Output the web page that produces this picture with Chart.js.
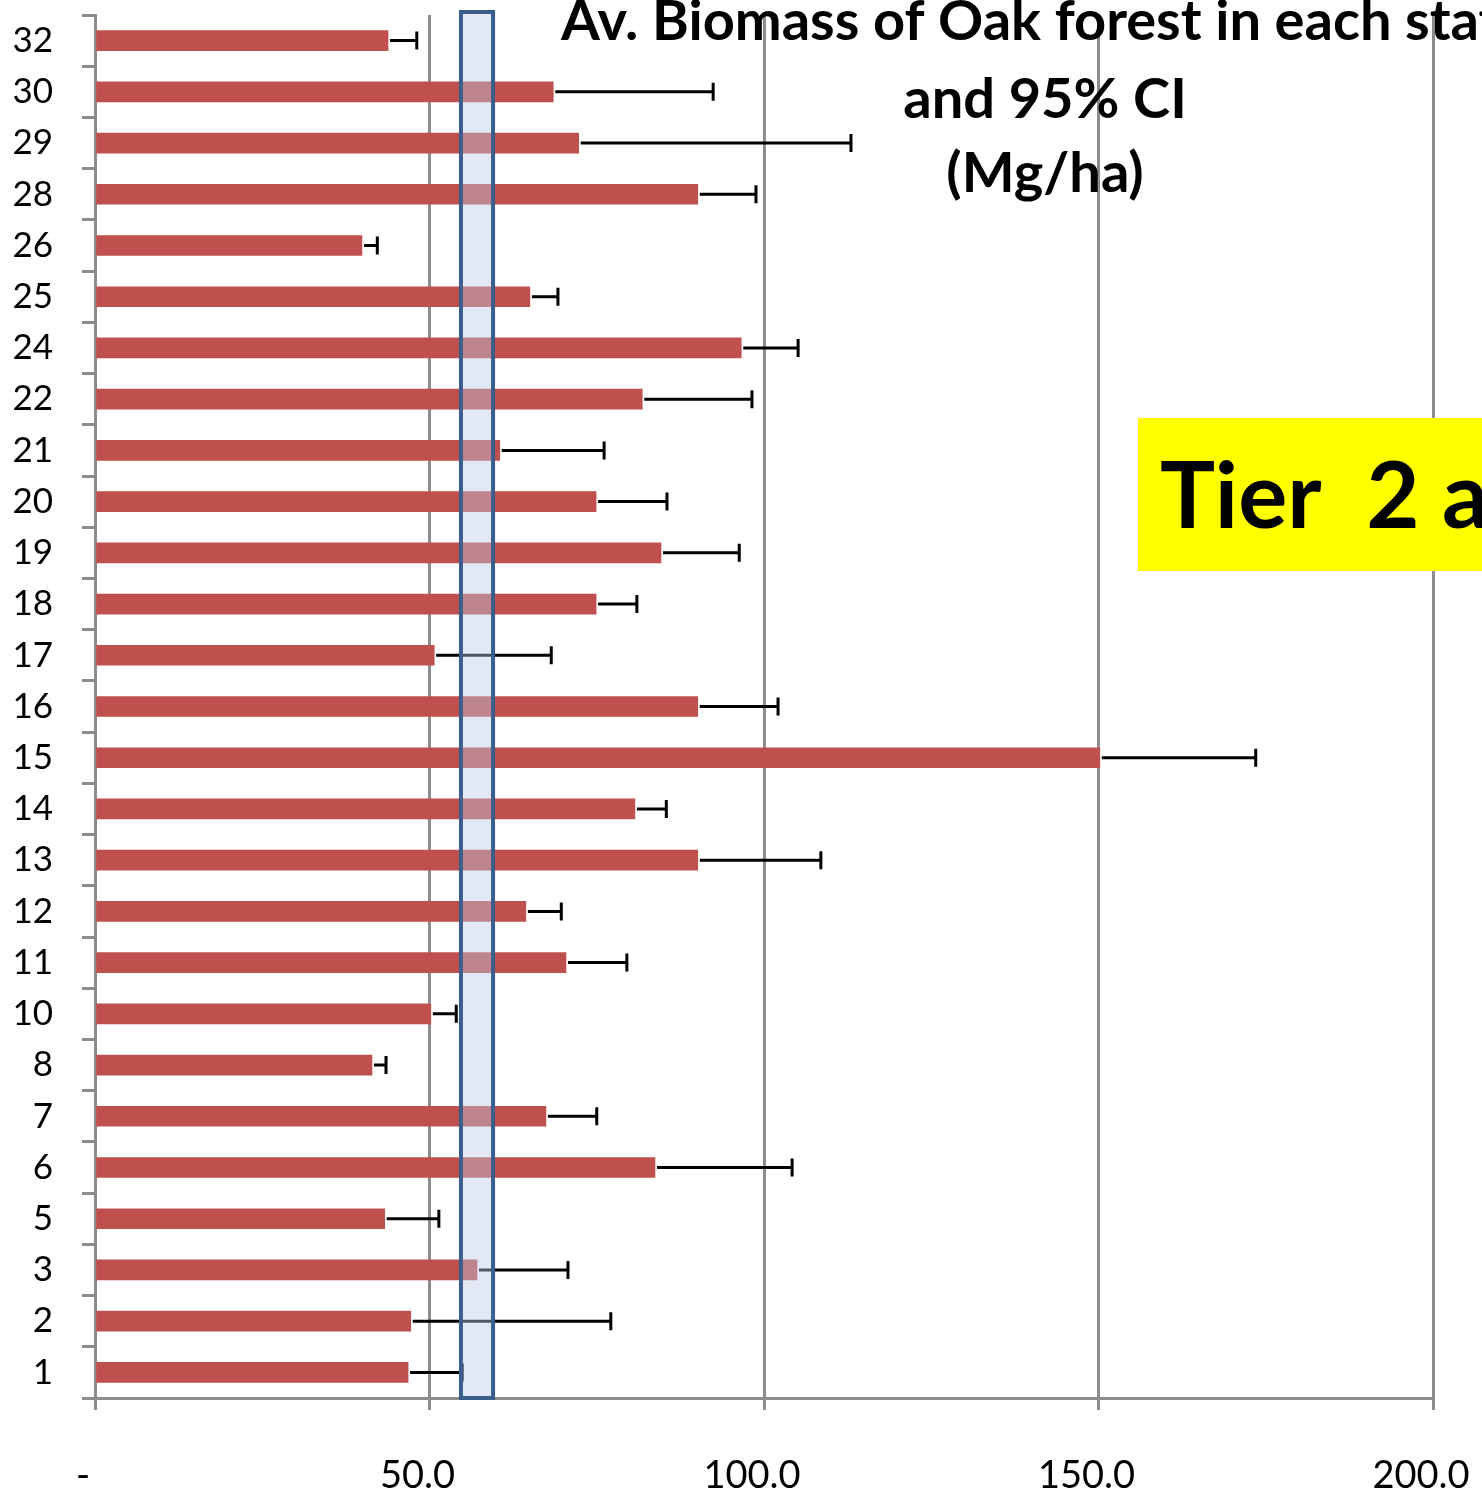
<!DOCTYPE html>
<html>
<head>
<meta charset="utf-8">
<title>Av. Biomass of Oak forest</title>
<script src="https://cdn.jsdelivr.net/npm/chart.js@4.4.0/dist/chart.umd.min.js"></script>
<style>
  html, body { margin: 0; padding: 0; background: #fff; }
  #wrap { width: 1482px; height: 1503px; position: relative; }
</style>
</head>
<body>
<div id="wrap"><canvas id="BiomassChart" width="1482" height="1503"></canvas></div>
<script>
// states, listed top to bottom as in the picture
var states = ['32', '30', '29', '28', '26', '25', '24', '22', '21', '20', '19', '18', '17', '16',
              '15', '14', '13', '12', '11', '10', '8', '7', '6', '5', '3', '2', '1'];

// average biomass (Mg/ha)
var avgBiomass = [43.8, 68.5, 72.3, 90.1, 39.9, 65.0, 96.6, 81.8, 60.5, 74.9, 84.6, 74.9, 50.7, 90.1,
                  150.2, 80.7, 90.1, 64.4, 70.4, 50.2, 41.4, 67.4, 83.7, 43.3, 57.1, 47.2, 46.8];

// upper end of the 95% CI
var ciUpper = [48.1, 92.4, 113.0, 98.8, 42.2, 69.2, 105.1, 98.2, 76.1, 85.5, 96.3, 81.0, 68.2, 102.1,
               173.5, 85.4, 108.5, 69.7, 79.5, 54.0, 43.5, 75.0, 104.2, 51.4, 70.7, 77.1, 54.9];

var xTickValues = [0, 50, 100, 150, 200];
var xTickLabels = ['-', '50.0', '100.0', '150.0', '200.0'];

// highlighted band (Tier 2 default range)
var highlightBand = [54.7, 59.5];

var titleLines = ['Av. Biomass of Oak forest in each state', 'and 95% CI', '(Mg/ha)'];
var boxText = 'Tier  2 approach';

Chart.defaults.font.family = 'Lato, "Open Sans", sans-serif';

function noPadding(scale) {
    scale.paddingLeft = 0;
    scale.paddingRight = 0;
    scale.paddingTop = 0;
    scale.paddingBottom = 0;
}

var errorBarPlugin = {
    id: 'errorBars',
    afterDatasetsDraw: function (chart) {
        var ctx = chart.ctx;
        var xs = chart.scales.x;
        var area = chart.chartArea;
        var meta = chart.getDatasetMeta(0);
        ctx.save();
        ctx.strokeStyle = '#000';
        ctx.lineWidth = 3;
        meta.data.forEach(function (bar, i) {
            var x0 = xs.getPixelForValue(avgBiomass[i]) + 2;
            var x1 = xs.getPixelForValue(ciUpper[i]);
            ctx.beginPath();
            ctx.moveTo(x0, bar.y);
            ctx.lineTo(x1, bar.y);
            ctx.moveTo(x1, bar.y - 9);
            ctx.lineTo(x1, bar.y + 9);
            ctx.stroke();
        });

        // band drawn over the bars
        var bx0 = xs.getPixelForValue(highlightBand[0]);
        var bx1 = xs.getPixelForValue(highlightBand[1]);
        ctx.fillStyle = 'rgba(187, 204, 229, 0.43)';
        ctx.fillRect(bx0, area.top - 3, bx1 - bx0, area.bottom - area.top + 3);
        ctx.strokeStyle = '#3B5E8C';
        ctx.lineWidth = 4;
        ctx.strokeRect(bx0, area.top - 3, bx1 - bx0, area.bottom - area.top + 3);
        ctx.restore();
    },
    afterDraw: function (chart) {
        var ctx = chart.ctx;
        ctx.save();
        ctx.fillStyle = '#000';
        ctx.textAlign = 'center';
        ctx.textBaseline = 'alphabetic';
        ctx.font = 'bold 56px Lato, "Open Sans", sans-serif';
        ctx.fillText(titleLines[0], 1045, 40);
        ctx.fillText(titleLines[1], 1045, 118);
        ctx.fillText(titleLines[2], 1045, 192);

        ctx.fillStyle = '#FFFF00';
        ctx.fillRect(1138, 418, 400, 153);
        ctx.fillStyle = '#000';
        ctx.textAlign = 'left';
        ctx.font = 'bold 92px Lato, "Open Sans", sans-serif';
        ctx.fillText(boxText, 1160, 528);
        ctx.restore();
    }
};

function createBiomassChart() {
    var ctx = document.getElementById('BiomassChart').getContext('2d');
    var myChart = new Chart(ctx, {
        type: 'bar',
        data: {
            labels: states,
            datasets: [{
                label: 'Av. Biomass',
                data: avgBiomass,
                backgroundColor: '#C0504D',
                borderWidth: 0,
                barThickness: 20
            }]
        },
        options: {
            indexAxis: 'y',
            responsive: false,
            animation: false,
            devicePixelRatio: 1,
            layout: { padding: { top: 15, right: 49, left: 0, bottom: 0 } },
            plugins: {
                legend: { display: false },
                tooltip: { enabled: false }
            },
            scales: {
                x: {
                    type: 'linear',
                    min: 0,
                    max: 200,
                    afterBuildTicks: function (scale) {
                        scale.ticks = xTickValues.map(function (v) { return { value: v }; });
                    },
                    ticks: {
                        color: '#000',
                        font: { size: 38 },
                        padding: 43,
                        labelOffset: -12,
                        maxRotation: 0,
                        callback: function (value) {
                            return xTickLabels[xTickValues.indexOf(value)];
                        }
                    },
                    grid: { color: '#8C8C8C', lineWidth: 3, tickLength: 12 },
                    border: { color: '#8C8C8C', width: 3 },
                    afterFit: function (scale) { scale.height = 105; noPadding(scale); }
                },
                y: {
                    offset: true,
                    grid: { offset: true, drawOnChartArea: false, color: '#8C8C8C', lineWidth: 3, tickLength: 13 },
                    border: { color: '#8C8C8C', width: 3 },
                    ticks: { color: '#000', font: { size: 35 }, padding: 29, autoSkip: false },
                    afterFit: function (scale) { scale.width = 95; noPadding(scale); }
                }
            }
        },
        plugins: [errorBarPlugin]
    });
}

createBiomassChart();
</script>
</body>
</html>
